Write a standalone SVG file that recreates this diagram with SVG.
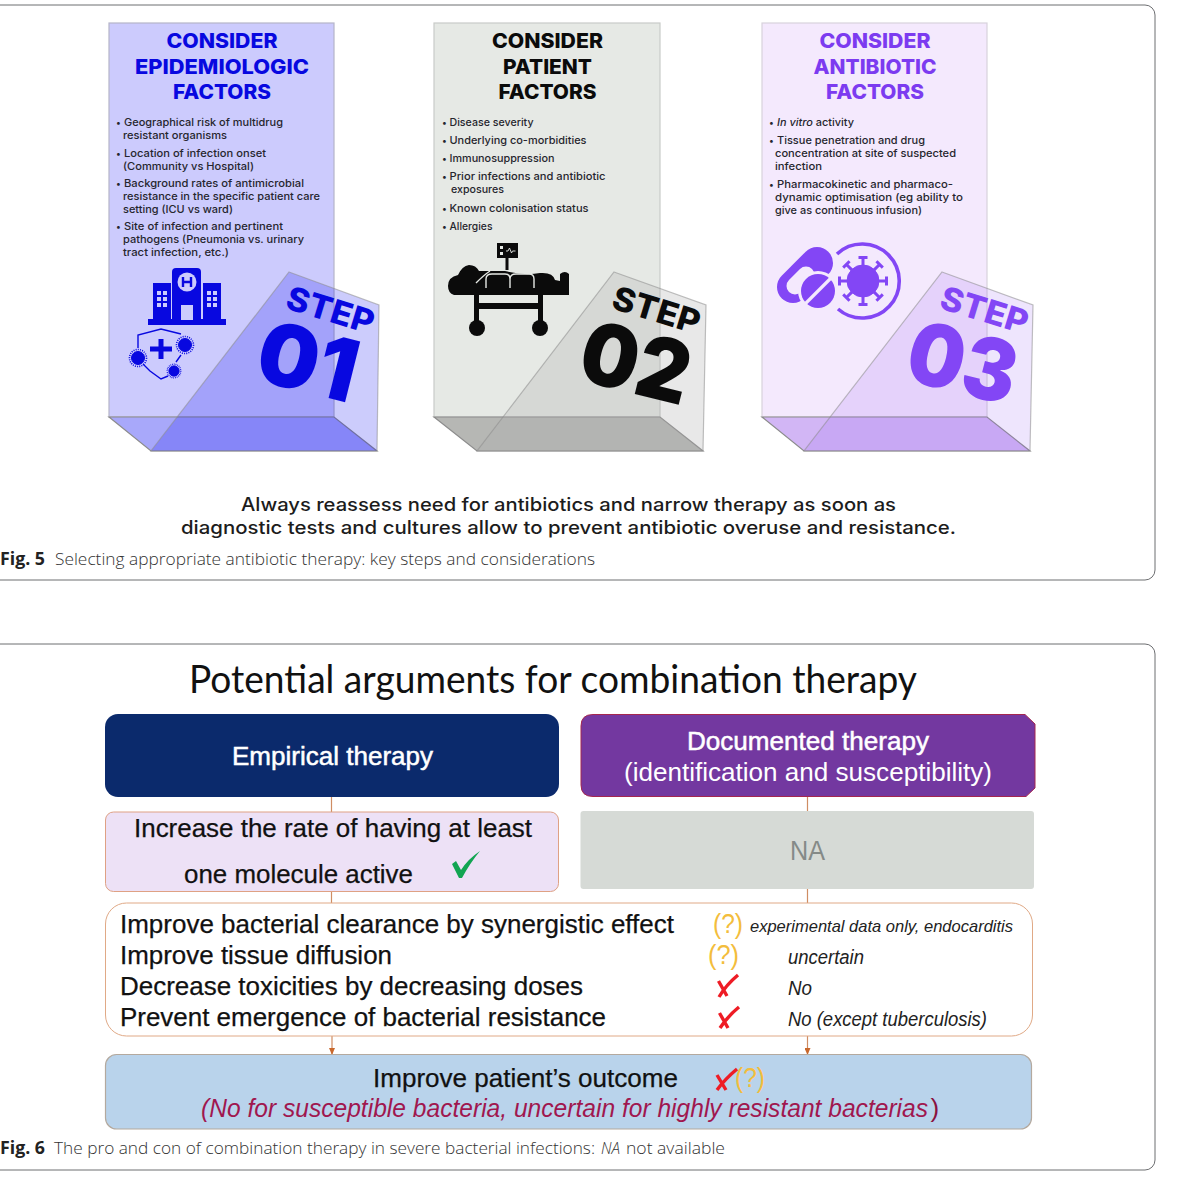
<svg xmlns="http://www.w3.org/2000/svg" xmlns:xlink="http://www.w3.org/1999/xlink" width="1185" height="1178" viewBox="0 0 1185 1178">
<style>
text{font-family:"Liberation Sans",Arial,sans-serif}
.frame{fill:#fff;stroke:#6d6e71;stroke-width:1}
.ttl{font-family:Inter,sans-serif;font-weight:800;font-size:20.500px;text-anchor:middle}
.b{font-family:Inter,sans-serif;font-weight:500;font-size:10.500px;fill:#26262e}
.d{font-family:Inter,sans-serif;font-weight:500;font-size:9px;fill:#26262e}
.step{font-family:Inter,sans-serif;font-weight:800;font-size:33px}
.num{font-family:Inter,sans-serif;font-weight:900;font-size:86px}
.note{font-family:Inter,sans-serif;font-weight:500;font-size:18px;fill:#1c1c1c}
.capb{font-family:"Open Sans",sans-serif;font-weight:700;font-size:17px;fill:#222}
.cap{font-family:"Open Sans",sans-serif;font-weight:300;font-size:16.500px;fill:#333}
.sheet{stroke:#8c8c8c;stroke-opacity:.55;stroke-width:1.2}
.m{font-size:26px;fill:#111;stroke:#111;stroke-width:.25}
.it{fill:#222}
.q{font-size:28px;fill:#f3bd3c}
.x{fill:none;stroke:#ee1c25;stroke-width:3.4}
.conn{stroke:#cf8d63;stroke-width:1.2;fill:none}
</style>
<defs>
<marker id="arr" markerWidth="7" markerHeight="6" refX="6" refY="3" orient="auto" markerUnits="userSpaceOnUse"><path d="M0 0L7 3L0 6Z" fill="#c9682c"/></marker>
<g id="spike"><path d="M0-14V-23M-4.500-23.500H4.500" fill="none" stroke-width="3"/></g>
<g id="virus"><circle r="16"/><use xlink:href="#spike"/><use xlink:href="#spike" transform="rotate(45)"/><use xlink:href="#spike" transform="rotate(90)"/><use xlink:href="#spike" transform="rotate(135)"/><use xlink:href="#spike" transform="rotate(180)"/><use xlink:href="#spike" transform="rotate(225)"/><use xlink:href="#spike" transform="rotate(270)"/><use xlink:href="#spike" transform="rotate(315)"/></g>
<g id="germ"><circle r="6.500"/><circle r="8.500" fill="none" stroke-width="1.600" stroke-dasharray="1 1.200"/></g>
</defs>

<g id="frame-fig5"><path class="frame" d="M-2 5H1145a10 10 0 0 1 10 10V570a10 10 0 0 1-10 10H-2Z"/></g>
<g id="frame-fig6"><path class="frame" d="M-2 644H1145a10 10 0 0 1 10 10V1160a10 10 0 0 1-10 10H-2Z"/></g>

<g id="step1">
<rect x="109" y="23" width="225" height="394" fill="#cccbfd" stroke="#b5b5c8" stroke-width="1.200"/>
<path d="M109 417L151 451H377L334 417Z" fill="#a8a8fa" stroke="#8c8c8c" stroke-width="1.200"/>
<g fill="#0808e0">
<text class="ttl" x="222" y="48" textLength="111" lengthAdjust="spacingAndGlyphs">CONSIDER</text>
<text class="ttl" x="222" y="73.500" textLength="174" lengthAdjust="spacingAndGlyphs">EPIDEMIOLOGIC</text>
<text class="ttl" x="222" y="99" textLength="98" lengthAdjust="spacingAndGlyphs">FACTORS</text>
</g>
<text class="d" x="116" y="125.500">•</text><text class="b" x="124" y="125.500" textLength="159" lengthAdjust="spacingAndGlyphs">Geographical risk of multidrug</text>
<text class="b" x="123" y="138.500" textLength="104" lengthAdjust="spacingAndGlyphs">resistant organisms</text>
<text class="d" x="116" y="156.500">•</text><text class="b" x="124" y="156.500" textLength="142" lengthAdjust="spacingAndGlyphs">Location of infection onset</text>
<text class="b" x="123" y="169.500" textLength="131" lengthAdjust="spacingAndGlyphs">(Community vs Hospital)</text>
<text class="d" x="116" y="187">•</text><text class="b" x="124" y="187" textLength="180" lengthAdjust="spacingAndGlyphs">Background rates of antimicrobial</text>
<text class="b" x="123" y="200" textLength="197" lengthAdjust="spacingAndGlyphs">resistance in the specific patient care</text>
<text class="b" x="123" y="213" textLength="110" lengthAdjust="spacingAndGlyphs">setting (ICU vs ward)</text>
<text class="d" x="116" y="230">•</text><text class="b" x="124" y="230" textLength="159" lengthAdjust="spacingAndGlyphs">Site of infection and pertinent</text>
<text class="b" x="123" y="243" textLength="181" lengthAdjust="spacingAndGlyphs">pathogens (Pneumonia vs. urinary</text>
<text class="b" x="123" y="256" textLength="106" lengthAdjust="spacingAndGlyphs">tract infection, etc.)</text>
<g fill="#0808e0">
<path d="M148 319H226V325H148Z"/><path d="M153 283H171V319H153ZM203 283H221V319H203Z"/>
<path d="M172 272a4 4 0 0 1 4-4H197a4 4 0 0 1 4 4V320H172Z"/>
</g>
<g fill="#cccbfd">
<circle cx="187" cy="282" r="9.500"/><rect x="181" y="305" width="12" height="15"/>
<path d="M157 291h4v4h-4zM163 291h4v4h-4zM157 297h4v4h-4zM163 297h4v4h-4zM157 303h4v4h-4zM163 303h4v4h-4zM207 291h4v4h-4zM213 291h4v4h-4zM207 297h4v4h-4zM213 297h4v4h-4zM207 303h4v4h-4zM213 303h4v4h-4z"/>
</g>
<path d="M183 277v10M191 277v10M183 282h8" stroke="#0808e0" stroke-width="2.400" fill="none"/>
<path d="M138 348V335L161 329L181 334M181 355L176 362M168 376L161 379L150 371L143 364" fill="none" stroke="#0808e0" stroke-width="1.400"/>
<path d="M161 339V359M150 349H172" stroke="#0808e0" stroke-width="5" fill="none"/>
<g fill="#0808e0" stroke="#0808e0">
<use xlink:href="#germ" transform="translate(138 358)"/><use xlink:href="#germ" transform="translate(185 345)"/><use xlink:href="#germ" transform="translate(174 371) scale(.8)"/>
</g>
<path class="sheet" d="M289 272L379 305L377 451H151Z" fill="#0000f0" fill-opacity=".2"/>
<text class="step" fill="#0808e0" transform="translate(284 308) rotate(17)" textLength="90" lengthAdjust="spacingAndGlyphs">STEP</text>
<text class="num" fill="#0808e0" transform="translate(252 379) rotate(14)" textLength="100" lengthAdjust="spacingAndGlyphs">01</text>
</g>

<g id="step2">
<rect x="434" y="23" width="226" height="394" fill="#e6e9e5" stroke="#c9cbc8" stroke-width="1.200"/>
<path d="M434 417L477 451H703L660 417Z" fill="#b6b7b4" stroke="#8c8c8c" stroke-width="1.200"/>
<g fill="#0b0b0b">
<text class="ttl" x="547.500" y="48" textLength="111" lengthAdjust="spacingAndGlyphs">CONSIDER</text>
<text class="ttl" x="547.500" y="73.500" textLength="89" lengthAdjust="spacingAndGlyphs">PATIENT</text>
<text class="ttl" x="547.500" y="99" textLength="98" lengthAdjust="spacingAndGlyphs">FACTORS</text>
</g>
<text class="d" x="442" y="125.500">•</text><text class="b" x="449.500" y="125.500" textLength="84" lengthAdjust="spacingAndGlyphs">Disease severity</text>
<text class="d" x="442" y="144">•</text><text class="b" x="449.500" y="144" textLength="137" lengthAdjust="spacingAndGlyphs">Underlying co-morbidities</text>
<text class="d" x="442" y="162">•</text><text class="b" x="449.500" y="162" textLength="105" lengthAdjust="spacingAndGlyphs">Immunosuppression</text>
<text class="d" x="442" y="180">•</text><text class="b" x="449.500" y="180" textLength="156" lengthAdjust="spacingAndGlyphs">Prior infections and antibiotic</text>
<text class="b" x="451" y="193" textLength="53" lengthAdjust="spacingAndGlyphs">exposures</text>
<text class="d" x="442" y="211.500">•</text><text class="b" x="449.500" y="211.500" textLength="139" lengthAdjust="spacingAndGlyphs">Known colonisation status</text>
<text class="d" x="442" y="230">•</text><text class="b" x="449.500" y="230" textLength="43" lengthAdjust="spacingAndGlyphs">Allergies</text>
<g fill="#0b0b0b">
<rect x="497" y="243" width="21" height="15"/><rect x="505.500" y="258" width="3" height="12"/>
<path d="M448 286Q448 277 458 275Q462 266 469 265Q476 265 479 271L505 271Q525 276 540 273Q553 272 555 280L560 281V274Q565 270 569 274V295H454Q448 293 448 286Z"/>
<rect x="474" y="295" width="5" height="27"/><rect x="538" y="295" width="5" height="27"/><rect x="477" y="303" width="63" height="6"/>
<circle cx="477" cy="328" r="8"/><circle cx="540" cy="328" r="8"/>
</g>
<path d="M486 288V279Q486 274 492 274H505Q510 274 510 279V288M510 288V279Q510 274 516 274H529Q534 274 534 279V288M476 283Q484 275 490 271" fill="none" stroke="#e6e9e5" stroke-width="1.400"/>
<path d="M500 246h3v3h-3zM500 252h3v3h-3z" fill="#e6e9e5"/><path d="M506 251h2l1.500-3 2 5 1-2h3" fill="none" stroke="#e6e9e5" stroke-width=".9"/>
<path class="sheet" d="M614 272L706 305L703 451H477Z" fill="#adadad" fill-opacity=".28"/>
<text class="step" fill="#0b0b0b" transform="translate(610 308) rotate(17)" textLength="90" lengthAdjust="spacingAndGlyphs">STEP</text>
<text class="num" fill="#0b0b0b" transform="translate(575 379) rotate(14)" textLength="110" lengthAdjust="spacingAndGlyphs">02</text>
</g>

<g id="step3">
<rect x="762" y="23" width="225" height="394" fill="#f4e9fd" stroke="#d7d2dc" stroke-width="1.200"/>
<path d="M762 417L804 451H1030L987 417Z" fill="#d2b6f5" stroke="#8c8c8c" stroke-width="1.200"/>
<g fill="#7c3bf0">
<text class="ttl" x="875" y="48" textLength="111" lengthAdjust="spacingAndGlyphs">CONSIDER</text>
<text class="ttl" x="875" y="73.500" textLength="123" lengthAdjust="spacingAndGlyphs">ANTIBIOTIC</text>
<text class="ttl" x="875" y="99" textLength="98" lengthAdjust="spacingAndGlyphs">FACTORS</text>
</g>
<text class="d" x="769" y="125.500">•</text><text class="b" x="777" y="125.500" textLength="77" lengthAdjust="spacingAndGlyphs"><tspan font-style="italic">In vitro</tspan> activity</text>
<text class="d" x="769" y="144">•</text><text class="b" x="777" y="144" textLength="148" lengthAdjust="spacingAndGlyphs">Tissue penetration and drug</text>
<text class="b" x="775" y="157" textLength="181" lengthAdjust="spacingAndGlyphs">concentration at site of suspected</text>
<text class="b" x="775" y="170" textLength="47" lengthAdjust="spacingAndGlyphs">infection</text>
<text class="d" x="769" y="188">•</text><text class="b" x="777" y="188" textLength="176" lengthAdjust="spacingAndGlyphs">Pharmacokinetic and pharmaco-</text>
<text class="b" x="775" y="201" textLength="188" lengthAdjust="spacingAndGlyphs">dynamic optimisation (eg ability to</text>
<text class="b" x="775" y="214" textLength="147" lengthAdjust="spacingAndGlyphs">give as continuous infusion)</text>
<path d="M793 287L817 263" stroke="#8346f5" stroke-width="32" stroke-linecap="round" fill="none"/>
<path d="M795 286L806 275" stroke="#f4e9fd" stroke-width="17" stroke-linecap="round" fill="none"/>
<circle cx="818" cy="291" r="20" fill="#f4e9fd"/>
<circle cx="818" cy="291" r="17" fill="#8346f5"/>
<path d="M805 304L831 278" stroke="#f4e9fd" stroke-width="3.200" fill="none"/>
<path d="M837 254A37 37 0 1 1 838 309" fill="none" stroke="#8346f5" stroke-width="3.600"/>
<g fill="#8346f5" stroke="#8346f5"><use xlink:href="#virus" transform="translate(863 281)"/></g>
<path class="sheet" d="M942 272L1033 305L1030 451H804Z" fill="#9a66f5" fill-opacity=".17"/>
<text class="step" fill="#8346f5" transform="translate(938 308) rotate(17)" textLength="90" lengthAdjust="spacingAndGlyphs">STEP</text>
<text class="num" fill="#8346f5" transform="translate(902 379) rotate(14)" textLength="110" lengthAdjust="spacingAndGlyphs">03</text>
</g>

<g id="note-fig5">
<text class="note" x="241" y="511" textLength="655" lengthAdjust="spacingAndGlyphs">Always reassess need for antibiotics and narrow therapy as soon as</text>
<text class="note" x="181" y="534" textLength="775" lengthAdjust="spacingAndGlyphs">diagnostic tests and cultures allow to prevent antibiotic overuse and resistance.</text>
</g>
<g id="caption-fig5">
<text class="capb" x="0" y="564.500" textLength="45" lengthAdjust="spacingAndGlyphs">Fig. 5</text>
<text class="cap" x="55" y="564.500" textLength="540" lengthAdjust="spacingAndGlyphs">Selecting appropriate antibiotic therapy: key steps and considerations</text>
</g>

<g id="title-fig6"><text x="189" y="693" font-size="38" fill="#111" style="font-family:Lato,sans-serif" textLength="728" lengthAdjust="spacingAndGlyphs">Potential arguments for combination therapy</text></g>

<g id="connectors">
<path class="conn" d="M331.500 797V812M331.500 892V907M807.500 797V811M807.500 889V907"/>
<path class="conn" d="M332 1036V1054" marker-end="url(#arr)"/>
<path class="conn" d="M807.500 1036V1054" marker-end="url(#arr)"/>
</g>

<g id="empirical">
<rect x="105" y="714" width="454" height="83" rx="13" fill="#0b2a6c"/>
<text x="232" y="765" font-size="26" fill="#fff" stroke="#fff" stroke-width=".5" textLength="201" lengthAdjust="spacingAndGlyphs">Empirical therapy</text>
</g>
<g id="documented">
<path d="M593 714.500H1025L1035 724V788L1026 796.500H593Q581 796.500 581 785V726Q581 714.500 593 714.500Z" fill="#7338a0" stroke="#a5264f" stroke-width="1"/>
<text x="687" y="750" font-size="26" fill="#fff" stroke="#fff" stroke-width=".5" textLength="242" lengthAdjust="spacingAndGlyphs">Documented therapy</text>
<text x="624" y="781" font-size="26" fill="#fff" textLength="368" lengthAdjust="spacingAndGlyphs">(identification and susceptibility)</text>
</g>
<g id="increase">
<rect x="105.500" y="812" width="453" height="79.500" rx="8" fill="#ede1f6" stroke="#dfa184" stroke-width="1"/>
<text class="m" x="134" y="837" textLength="398" lengthAdjust="spacingAndGlyphs">Increase the rate of having at least</text>
<text class="m" x="184" y="883" textLength="229" lengthAdjust="spacingAndGlyphs">one molecule active</text>
<path d="M452 864L456 861L461 870Q468 859 480 851Q470 863 462 878H459Z" fill="#12a552"/>
</g>
<g id="na">
<rect x="580.500" y="811" width="453.500" height="78" rx="3" fill="#d6dad6"/>
<text x="790" y="860" font-size="28" fill="#858a88" textLength="35" lengthAdjust="spacingAndGlyphs">NA</text>
</g>
<g id="arguments">
<rect x="105.500" y="903" width="927" height="133" rx="21" fill="#fff" stroke="#e0a986" stroke-width="1"/>
<text class="m" x="120" y="933" textLength="554" lengthAdjust="spacingAndGlyphs">Improve bacterial clearance by synergistic effect</text>
<text class="m" x="120" y="964" textLength="272" lengthAdjust="spacingAndGlyphs">Improve tissue diffusion</text>
<text class="m" x="120" y="995" textLength="463" lengthAdjust="spacingAndGlyphs">Decrease toxicities by decreasing doses</text>
<text class="m" x="120" y="1026" textLength="486" lengthAdjust="spacingAndGlyphs">Prevent emergence of bacterial resistance</text>
<text class="q" x="713" y="933" textLength="30" lengthAdjust="spacingAndGlyphs">(?)</text>
<text class="q" x="708" y="964" textLength="31" lengthAdjust="spacingAndGlyphs">(?)</text>
<path class="x" d="M718.500 981L727 996M719 997Q726 985 738 975"/>
<path class="x" d="M719.500 1013L728 1028M720 1028Q728 1016 739 1007"/>
<text class="it" font-style="italic" x="750" y="932" font-size="17" textLength="263" lengthAdjust="spacingAndGlyphs">experimental data only, endocarditis</text>
<text class="it" font-style="italic" x="788" y="963.500" font-size="20" textLength="76" lengthAdjust="spacingAndGlyphs">uncertain</text>
<text class="it" font-style="italic" x="788" y="994.500" font-size="20" textLength="24" lengthAdjust="spacingAndGlyphs">No</text>
<text class="it" font-style="italic" x="788" y="1025.500" font-size="20" textLength="199" lengthAdjust="spacingAndGlyphs">No (except tuberculosis)</text>
</g>
<g id="outcome">
<rect x="105.500" y="1054.500" width="926" height="74.500" rx="11" fill="#b9d3eb" stroke="#b4a99e" stroke-width="1.200"/>
<text class="m" x="373" y="1087" textLength="305" lengthAdjust="spacingAndGlyphs">Improve patient’s outcome</text>
<path class="x" d="M717 1075L726 1090M717 1090Q725 1079 737 1069"/>
<text class="q" x="735" y="1087" textLength="30" lengthAdjust="spacingAndGlyphs">(?)</text>
<text x="201" y="1117" font-size="25.500" font-style="italic" fill="#a0174f" textLength="727" lengthAdjust="spacingAndGlyphs">(No for susceptible bacteria, uncertain for highly resistant bacterias</text>
<text x="930.500" y="1117" font-size="26" fill="#8a1240">)</text>
</g>
<g id="caption-fig6">
<text class="capb" x="0" y="1153.500" textLength="45" lengthAdjust="spacingAndGlyphs">Fig. 6</text>
<text class="cap" x="54" y="1153.500" textLength="541" lengthAdjust="spacingAndGlyphs">The pro and con of combination therapy in severe bacterial infections:</text>
<text class="cap" x="601" y="1153.500" font-style="italic" textLength="19" lengthAdjust="spacingAndGlyphs">NA</text>
<text class="cap" x="626" y="1153.500" textLength="99" lengthAdjust="spacingAndGlyphs">not available</text>
</g>
</svg>
